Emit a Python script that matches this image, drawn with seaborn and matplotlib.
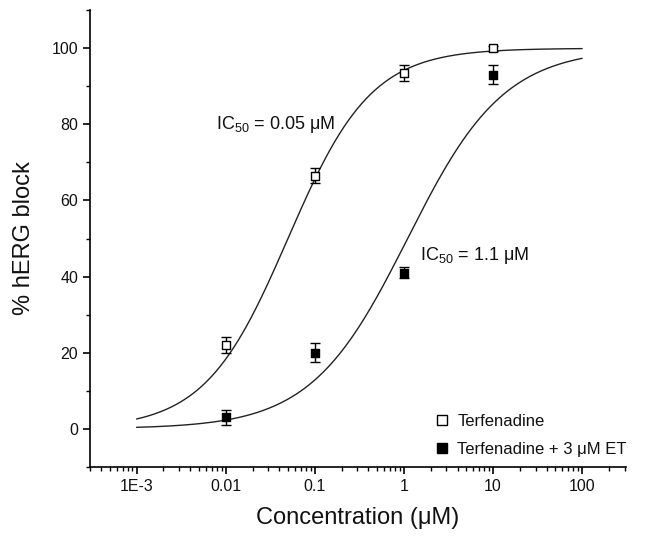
import numpy as np
import pandas as pd
import seaborn as sns
import matplotlib.pyplot as plt
from matplotlib.lines import Line2D
from matplotlib.ticker import LogLocator, MultipleLocator, NullFormatter

# data
conc = [0.01, 0.1, 1, 10]
terf = [22, 66.5, 93.5, 100]
terf_err = [2, 2, 2, 0.6]
terf_et = [3, 20, 41, 93]
terf_et_err = [2, 2.5, 1.5, 2.5]

# fitted Hill curves (IC50 in uM, slope)
fit_ic50 = [0.05, 1.1]
fit_slope = [0.93, 0.8]
fit_range = [1e-3, 100]

xtick_vals = [1e-3, 0.01, 0.1, 1, 10, 100]
xtick_labels = ["1E-3", "0.01", "0.1", "1", "10", "100"]
series_names = ["Terfenadine", "Terfenadine + 3 \u03bcM ET"]

sns.set_style("ticks")
plt.rcParams["font.family"] = ["Liberation Sans", "DejaVu Sans"]
plt.rcParams["mathtext.fontset"] = "custom"
plt.rcParams["mathtext.rm"] = "Liberation Sans"
plt.rcParams["mathtext.default"] = "regular"
plt.rcParams["text.color"] = "#111111"
plt.rcParams["axes.labelcolor"] = "#111111"
plt.rcParams["xtick.color"] = "#111111"
plt.rcParams["ytick.color"] = "#111111"

fig = plt.figure(figsize=(6.52, 5.39), dpi=100)
ax = fig.add_axes([0.138, 0.134, 0.822, 0.847])

# curves
xs = np.logspace(np.log10(fit_range[0]), np.log10(fit_range[1]), 300)
rows = []
for i, (ic, n) in enumerate(zip(fit_ic50, fit_slope)):
    ys = 100 / (1 + (ic / xs) ** n)
    rows.append(pd.DataFrame({"x": xs, "y": ys, "fit": i}))
curves = pd.concat(rows)
sns.lineplot(data=curves, x="x", y="y", units="fit", estimator=None,
             color="#222222", lw=1.0, ax=ax, legend=False)

# points with error bars
ax.errorbar(conc, terf, yerr=terf_err, fmt="none", ecolor="black",
            elinewidth=1, capsize=3.5, capthick=1, zorder=3)
ax.errorbar(conc, terf_et, yerr=terf_et_err, fmt="none", ecolor="black",
            elinewidth=1, capsize=3.5, capthick=1, zorder=3)
pts = pd.DataFrame({"x": conc * 2, "y": terf + terf_et,
                    "s": [series_names[0]] * 4 + [series_names[1]] * 4})
sns.scatterplot(data=pts[pts.s == series_names[0]], x="x", y="y", marker="s",
                s=38, facecolor="white", edgecolor="black", linewidth=1,
                ax=ax, zorder=4, legend=False)
sns.scatterplot(data=pts[pts.s == series_names[1]], x="x", y="y", marker="s",
                s=38, color="black", edgecolor="black", linewidth=1,
                ax=ax, zorder=4, legend=False)

ax.set_xscale("log")
ax.set_xlim(3e-4, 310)
ax.set_ylim(-10, 110)
ax.set_xticks(xtick_vals)
ax.set_xticklabels(xtick_labels)
ax.xaxis.set_minor_locator(LogLocator(base=10, subs=np.arange(2, 10)))
ax.xaxis.set_minor_formatter(NullFormatter())
ax.set_yticks([0, 20, 40, 60, 80, 100])
ax.yaxis.set_minor_locator(MultipleLocator(10))
ax.tick_params(which="major", length=5, width=1.2, labelsize=11.5, color="black")
ax.tick_params(which="minor", length=3, width=1, color="black")
for s in ["left", "bottom"]:
    ax.spines[s].set_linewidth(1.2)
    ax.spines[s].set_color("black")
sns.despine(ax=ax)

ax.set_xlabel("Concentration (\u03bcM)", fontsize=17, labelpad=10)
ax.set_ylabel("% hERG block", fontsize=17, labelpad=12)

ax.text(0.0078, 80, "IC$_{50}$ = 0.05 \u03bcM", fontsize=13, va="center")
ax.text(1.5, 45.5, "IC$_{50}$ = 1.1 \u03bcM", fontsize=13, va="center")

handles = [
    Line2D([], [], marker="s", ls="none", mfc="white", mec="black", ms=7),
    Line2D([], [], marker="s", ls="none", mfc="black", mec="black", ms=7),
]
ax.legend(handles, series_names, loc="lower right", frameon=False,
          fontsize=12, handletextpad=0.3, borderaxespad=0.2,
          bbox_to_anchor=(1.02, 0.0), labelspacing=0.75, handlelength=1.2)

fig.savefig("out.png", dpi=100)
